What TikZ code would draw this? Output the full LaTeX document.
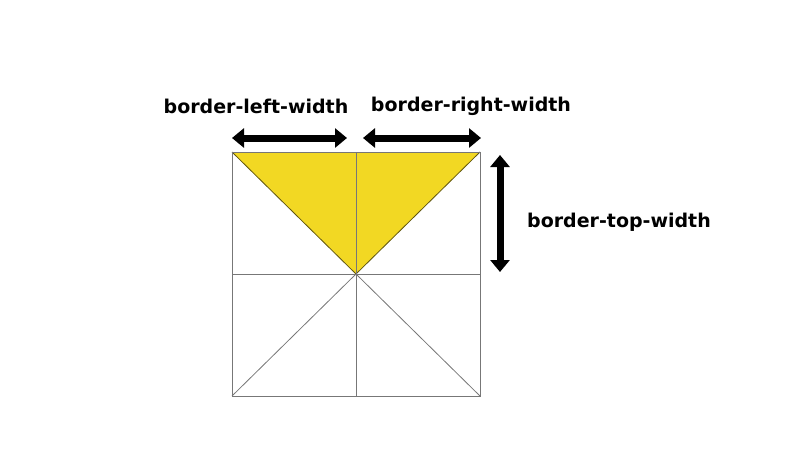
\documentclass[tikz,border=0pt]{standalone}
\usepackage{fontspec}
\setmainfont{DejaVu Sans}
\usetikzlibrary{arrows.meta}
\definecolor{fillY}{HTML}{F2D823}
\definecolor{edgeG}{HTML}{777777}
\begin{document}
\begin{tikzpicture}[x=1pt,y=-1pt,
  lbl/.style={font=\fontsize{19}{22}\selectfont\bfseries, inner sep=0pt},
  dim/.style={line width=7pt, {Triangle[width=19pt,length=12pt]}-{Triangle[width=19pt,length=12pt]}},
  thin/.style={draw=edgeG, line width=0.8pt}]
\useasboundingbox (0,0) rectangle (800,450);
\coordinate (TL) at (232,152);
\coordinate (TR) at (480,152);
\coordinate (BL) at (232,396);
\coordinate (BR) at (480,396);
\coordinate (C) at (356,274);
\coordinate (TM) at (356,152);
\coordinate (BM) at (356,396);
\coordinate (LM) at (232,274);
\coordinate (RM) at (480,274);
\fill[fillY] (TL) -- (TR) -- (C) -- cycle;
\draw[draw=black!60!fillY, line width=0.8pt] (TL) -- (C) -- (TR);
\draw[thin] (TL) rectangle (BR);
\draw[thin] (TM) -- (BM);
\draw[thin] (LM) -- (RM);
\draw[thin] (C) -- (BL);
\draw[thin] (C) -- (BR);
\coordinate (a1) at (232,138);
\coordinate (a2) at (347,138);
\coordinate (b1) at (363,138);
\coordinate (b2) at (481,138);
\coordinate (c1) at (500,155);
\coordinate (c2) at (500,272);
\draw[dim] (a1) -- (a2);
\draw[dim] (b1) -- (b2);
\draw[dim] (c1) -- (c2);
\node[lbl] (lw) at (256,106) {border-left-width};
\node[lbl] (rw) at (471,106) {border-right-width};
\node[lbl] (tw) at (619,222) {border-top-width};
\end{tikzpicture}
\end{document}
